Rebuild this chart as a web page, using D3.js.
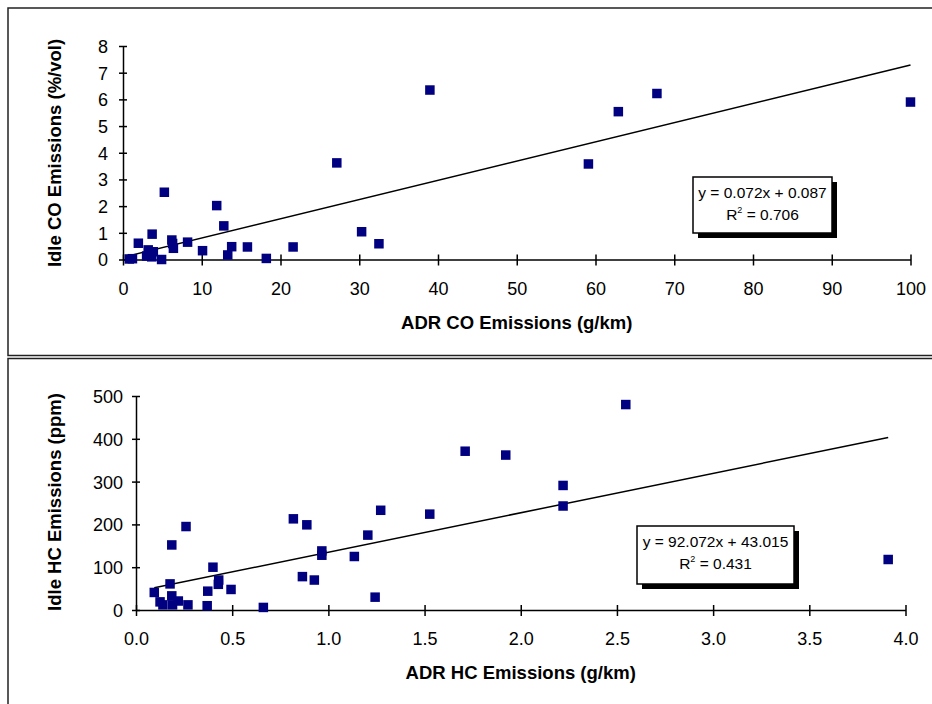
<!DOCTYPE html>
<html>
<head>
<meta charset="utf-8">
<script src="https://cdn.jsdelivr.net/npm/d3@7"></script>
<style>
  html, body { margin: 0; padding: 0; background: #fff; }
  svg { display: block; font-family: "Liberation Sans", Arial, sans-serif; }
</style>
</head>
<body>
<svg id="chart" width="932" height="704"></svg>
<script>
// ---- CO panel data: ADR CO (g/km) vs idle CO (%/vol)
const adrCO  = [0.8, 1.2, 1.95, 3.0, 3.2, 3.65, 3.7, 3.85, 4.9, 5.25, 6.2, 6.3, 6.4, 8.2, 10.1, 11.9, 12.8, 13.3, 13.8, 15.8, 18.2, 21.6, 27.15, 30.3, 32.5, 38.97, 59.1, 62.9, 67.8, 100];
const idleCO = [0.02, 0.03, 0.61, 0.13, 0.36, 0.1, 0.95, 0.29, 0.0, 2.52, 0.73, 0.6, 0.42, 0.65, 0.33, 2.02, 1.26, 0.17, 0.48, 0.47, 0.04, 0.47, 3.62, 1.04, 0.59, 6.35, 3.58, 5.54, 6.22, 5.9];
const coXTicks = [0, 10, 20, 30, 40, 50, 60, 70, 80, 90, 100];
const coYTicks = [0, 1, 2, 3, 4, 5, 6, 7, 8];
const coFit = { slope: 0.072, intercept: 0.087, r2: "0.706" };

// ---- HC panel data: ADR HC (g/km) vs idle HC (ppm)
const adrHC  = [0.095, 0.125, 0.14, 0.177, 0.186, 0.186, 0.19, 0.22, 0.26, 0.27, 0.37, 0.373, 0.40, 0.428, 0.43, 0.494, 0.662, 0.818, 0.865, 0.888, 0.927, 0.966, 0.966, 1.135, 1.205, 1.243, 1.272, 1.527, 1.711, 1.922, 2.22, 2.22, 2.546, 3.91];
const idleHC = [41, 19, 12, 61, 152, 33, 12, 21, 195, 12, 10, 44, 100, 60, 70, 48, 6, 213, 78, 199, 70, 138, 128, 125, 175, 30, 233, 224, 371, 362, 291, 243, 480, 118];
const hcXTicks = [0, 0.5, 1.0, 1.5, 2.0, 2.5, 3.0, 3.5, 4.0];
const hcYTicks = [0, 100, 200, 300, 400, 500];
const hcFit = { slope: 92.072, intercept: 43.015, r2: "0.431" };

const svg = d3.select("#chart");
const MARK = "#000080";
const FONT = "Liberation Sans, Arial, sans-serif";

// panel frames (right edges run past the page)
svg.append("rect").attr("x", 8).attr("y", 8).attr("width", 960).attr("height", 347.5)
  .attr("fill", "none").attr("stroke", "#222").attr("stroke-width", 1.5);
svg.append("rect").attr("x", 8).attr("y", 358.5).attr("width", 960).attr("height", 400)
  .attr("fill", "none").attr("stroke", "#222").attr("stroke-width", 1.5);

function panel(cfg) {
  const x = d3.scaleLinear().domain(cfg.xDomain).range(cfg.xRange);
  const y = d3.scaleLinear().domain(cfg.yDomain).range(cfg.yRange);
  const g = svg.append("g");

  // x axis: ticks cross the axis line
  const xa = g.append("g").attr("transform", `translate(0,${cfg.yRange[0]})`)
    .call(d3.axisBottom(x).tickValues(cfg.xTicks).tickFormat(cfg.xFormat).tickSize(0).tickPadding(0));
  xa.select(".domain").attr("stroke", "#000").attr("stroke-width", 1.5);
  xa.selectAll(".tick line").attr("y1", -5).attr("y2", 6).attr("stroke", "#000").attr("stroke-width", 1.5);
  xa.selectAll(".tick text").attr("y", 29).attr("dy", "0.35em")
    .attr("font-size", 18).attr("fill", "#000").attr("font-family", FONT);

  // y axis
  const ya = g.append("g").attr("transform", `translate(${cfg.xRange[0]},0)`)
    .call(d3.axisLeft(y).tickValues(cfg.yTicks).tickSize(0).tickPadding(0));
  ya.select(".domain").attr("stroke", "#000").attr("stroke-width", 1.5);
  ya.selectAll(".tick line").attr("x1", -4).attr("x2", 4).attr("stroke", "#000").attr("stroke-width", 1.5);
  ya.selectAll(".tick text").attr("x", cfg.yLabelPad).attr("dy", "0.36em")
    .attr("font-size", 18).attr("fill", "#000").attr("font-family", FONT);

  // trend line across the data range
  const [x0, x1] = d3.extent(cfg.xs);
  g.append("line")
    .attr("x1", x(x0)).attr("y1", y(cfg.fit.slope * x0 + cfg.fit.intercept))
    .attr("x2", x(x1)).attr("y2", y(cfg.fit.slope * x1 + cfg.fit.intercept))
    .attr("stroke", "#000").attr("stroke-width", 1.5);

  // square markers
  const s = 9.5;
  g.selectAll("rect.pt").data(cfg.xs.map((v, i) => [v, cfg.ys[i]])).enter()
    .append("rect").attr("class", "pt")
    .attr("x", d => x(d[0]) - s / 2).attr("y", d => y(d[1]) - s / 2)
    .attr("width", s).attr("height", s).attr("fill", MARK);

  // equation box with drop shadow
  const b = cfg.box;
  g.append("rect").attr("x", b.x + 5).attr("y", b.y + 5).attr("width", b.w).attr("height", b.h).attr("fill", "#000");
  g.append("rect").attr("x", b.x).attr("y", b.y).attr("width", b.w).attr("height", b.h)
    .attr("fill", "#fff").attr("stroke", "#000").attr("stroke-width", 1.5);
  const cx = b.x + b.w / 2;
  g.append("text").attr("x", cx).attr("y", b.y + 21).attr("text-anchor", "middle")
    .attr("font-size", 15.5).text(`y = ${cfg.fit.slope}x + ${cfg.fit.intercept.toFixed(3)}`);
  const t2 = g.append("text").attr("x", cx).attr("y", b.y + 43).attr("text-anchor", "middle").attr("font-size", 15.5);
  t2.append("tspan").text("R");
  t2.append("tspan").attr("font-size", 9).attr("dy", -7).text("2");
  t2.append("tspan").attr("dy", 7).text(` = ${cfg.fit.r2}`);

  // axis titles
  g.append("text").attr("x", (cfg.xRange[0] + cfg.xRange[1]) / 2).attr("y", cfg.xTitleY)
    .attr("text-anchor", "middle").attr("font-size", 18.5).attr("font-weight", "bold").text(cfg.xTitle);
  g.append("text").attr("transform", `translate(60.5,${cfg.yTitleC}) rotate(-90)`)
    .attr("text-anchor", "middle").attr("font-size", 18.5).attr("font-weight", "bold").text(cfg.yTitle);
}

panel({
  xs: adrCO, ys: idleCO, fit: coFit,
  xDomain: [0, 100], xRange: [123, 910.5],
  yDomain: [0, 8], yRange: [259.5, 46],
  xTicks: coXTicks, yTicks: coYTicks, xFormat: d3.format("d"),
  yLabelPad: -15,
  box: { x: 693, y: 177, w: 139, h: 56 },
  xTitle: "ADR CO Emissions (g/km)", xTitleY: 329,
  yTitle: "Idle CO Emissions (%/vol)", yTitleC: 153
});

panel({
  xs: adrHC, ys: idleHC, fit: hcFit,
  xDomain: [0, 4], xRange: [136, 905.5],
  yDomain: [0, 500], yRange: [610, 396],
  xTicks: hcXTicks, yTicks: hcYTicks, xFormat: d3.format(".1f"),
  yLabelPad: -13,
  box: { x: 637, y: 526, w: 157, h: 58 },
  xTitle: "ADR HC Emissions (g/km)", xTitleY: 679,
  yTitle: "Idle HC Emissions (ppm)", yTitleC: 502
});
</script>
</body>
</html>
